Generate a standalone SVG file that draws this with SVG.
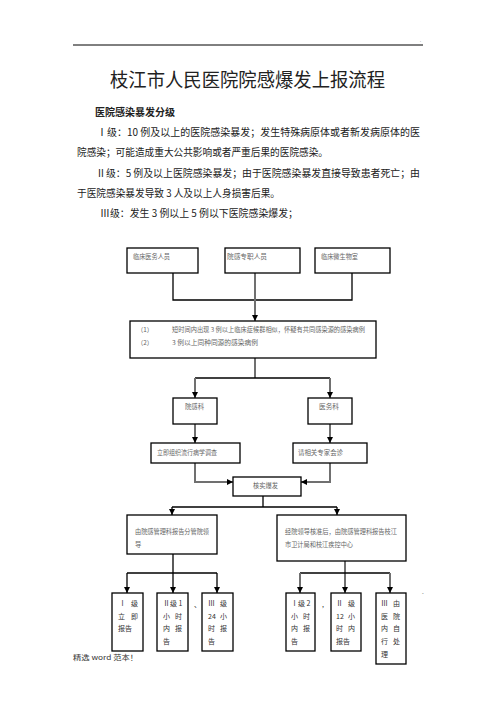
<svg xmlns="http://www.w3.org/2000/svg" width="496" height="702" viewBox="0 0 496 702">
<style>
.bg{fill:#fff}
.box{fill:#fff;stroke:#000;stroke-width:1.3}
.t{font-family:"Noto Sans CJK SC","Liberation Sans",sans-serif;fill:#222}
.bt{font-family:"Noto Sans CJK SC","Liberation Serif",serif;fill:#666;font-size:6.3px}
.st{font-family:"Noto Sans CJK SC","Liberation Serif",serif;fill:#333;font-size:7px}
.g{fill:none;stroke:#707070;stroke-width:2}
.k{fill:none;stroke:#000;stroke-width:1.3}
</style>
<defs>
<marker id="ah" markerWidth="6" markerHeight="6" refX="6" refY="3" orient="auto" markerUnits="userSpaceOnUse"><path d="M0,0 L6,3 L0,6 z" fill="#000"/></marker>
</defs>
<rect class="bg" x="0" y="0" width="496" height="702"/>
<line x1="73" y1="45" x2="423" y2="45" stroke="#000" stroke-width="1"/>
<text class="t" x="420" y="42" font-size="4">.</text>
<text class="t" x="110" y="87" font-size="19" textLength="275" lengthAdjust="spacingAndGlyphs">枝江市人民医院院感爆发上报流程</text>
<text class="t" x="95" y="116" font-size="10" font-weight="bold" textLength="80" lengthAdjust="spacingAndGlyphs">医院感染暴发分级</text>
<text class="t" x="97" y="136" font-size="10.5" textLength="323" lengthAdjust="spacingAndGlyphs">Ⅰ级：10 例及以上的医院感染暴发；发生特殊病原体或者新发病原体的医</text>
<text class="t" x="77" y="156" font-size="10.5" textLength="251" lengthAdjust="spacingAndGlyphs">院感染；可能造成重大公共影响或者严重后果的医院感染。</text>
<text class="t" x="96" y="177" font-size="10.5" textLength="324" lengthAdjust="spacingAndGlyphs">Ⅱ级：5 例及以上医院感染暴发；由于医院感染暴发直接导致患者死亡；由</text>
<text class="t" x="77" y="197" font-size="10.5" textLength="203" lengthAdjust="spacingAndGlyphs">于医院感染暴发导致 3 人及以上人身损害后果。</text>
<text class="t" x="100" y="217" font-size="10.5" textLength="198" lengthAdjust="spacingAndGlyphs">Ⅲ级：发生 3 例以上 5 例以下医院感染爆发；</text>

<g id="connectors">
<path class="k" d="M173,273 V300 H352 V273"/>
<path class="g" d="M255,273 V321" marker-end="url(#ah)"/>
<path class="g" d="M255,358 V378"/>
<path class="k" d="M195,378 H330"/>
<path class="g" d="M195,378 V398" marker-end="url(#ah)"/>
<path class="g" d="M330,378 V398" marker-end="url(#ah)"/>
<path class="g" d="M195,424 V443" marker-end="url(#ah)"/>
<path class="g" d="M330,424 V443" marker-end="url(#ah)"/>
<path class="g" d="M195,463 V482 H233" marker-end="url(#ah)"/>
<path class="g" d="M330,463 V482 H301" marker-end="url(#ah)"/>
<path class="k" d="M263,496 V507"/>
<path class="k" d="M172,507 H337"/>
<path class="k" d="M172,507 V515" marker-end="url(#ah)"/>
<path class="k" d="M337,507 V515" marker-end="url(#ah)"/>
<path class="k" d="M173,554 V593" marker-end="url(#ah)"/>
<path class="k" d="M127,573 H217"/>
<path class="k" d="M127,573 V593" marker-end="url(#ah)"/>
<path class="k" d="M217,573 V593" marker-end="url(#ah)"/>
<path class="g" d="M345,561 V593" marker-end="url(#ah)"/>
<path class="k" d="M300,573 H390"/>
<path class="g" d="M300,573 V593" marker-end="url(#ah)"/>
<path class="g" d="M390,573 V593" marker-end="url(#ah)"/>
</g>

<g id="n-linchuang">
<rect class="box" x="127" y="248" width="71" height="25"/>
<text class="bt" x="133" y="259" textLength="37" lengthAdjust="spacingAndGlyphs">临床医务人员</text>
</g>
<g id="n-yuangan-staff">
<rect class="box" x="225" y="248" width="75" height="25"/>
<text class="bt" x="227" y="259" textLength="40" lengthAdjust="spacingAndGlyphs">院感专职人员</text>
</g>
<g id="n-micro">
<rect class="box" x="315" y="248" width="75" height="25"/>
<text class="bt" x="321" y="259" textLength="37" lengthAdjust="spacingAndGlyphs">临床微生物室</text>
</g>
<g id="n-criteria">
<rect class="box" x="130" y="321" width="246" height="37"/>
<text class="bt" x="137" y="332">（1）</text>
<text class="bt" x="172" y="332" textLength="193" lengthAdjust="spacingAndGlyphs">短时间内出现 3 例以上临床症候群相似，怀疑有共同感染源的感染病例</text>
<text class="bt" x="137" y="345">（2）</text>
<text class="bt" x="172" y="345" textLength="86" lengthAdjust="spacingAndGlyphs">3 例以上同种同源的感染病例</text>
</g>
<g id="n-ygk">
<rect class="box" x="173" y="398" width="44" height="26"/>
<text class="bt" x="185" y="409" textLength="19" lengthAdjust="spacingAndGlyphs">院感科</text>
</g>
<g id="n-ywk">
<rect class="box" x="308" y="398" width="44" height="26"/>
<text class="bt" x="319" y="409" textLength="20" lengthAdjust="spacingAndGlyphs">医务科</text>
</g>
<g id="n-survey">
<rect class="box" x="151" y="443" width="89" height="20"/>
<text class="bt" x="157" y="455" textLength="60" lengthAdjust="spacingAndGlyphs">立即组织流行病学调查</text>
</g>
<g id="n-expert">
<rect class="box" x="293" y="443" width="74" height="20"/>
<text class="bt" x="298" y="455" textLength="45" lengthAdjust="spacingAndGlyphs">请相关专家会诊</text>
</g>
<g id="n-verify">
<rect class="box" x="233" y="477" width="68" height="19"/>
<text class="bt" x="253" y="488" textLength="25" lengthAdjust="spacingAndGlyphs">核实爆发</text>
</g>
<g id="n-report-leader">
<rect class="box" x="127" y="515" width="90" height="39"/>
<text class="bt" x="135" y="534" textLength="74" lengthAdjust="spacingAndGlyphs">由院感管理科报告分管院领</text>
<text class="bt" x="135" y="547">导</text>
</g>
<g id="n-report-city">
<rect class="box" x="277" y="515" width="129" height="46"/>
<text class="bt" x="285" y="534" textLength="112" lengthAdjust="spacingAndGlyphs">经院领导核准后，由院感管理科报告枝江</text>
<text class="bt" x="285" y="547" textLength="68" lengthAdjust="spacingAndGlyphs">市卫计局和枝江疾控中心</text>
</g>

<g id="n-l1">
<rect class="box" x="112" y="593" width="31" height="58"/>
<text class="st" x="119" y="606">Ⅰ</text><text class="st" x="131" y="606">级</text>
<text class="st" x="118" y="619">立</text><text class="st" x="131" y="619">即</text>
<text class="st" x="118" y="631">报告</text>
</g>
<g id="n-l2">
<rect class="box" x="157" y="593" width="31" height="58"/>
<text class="st" x="163" y="606">Ⅱ级 1</text>
<text class="st" x="163" y="619">小</text><text class="st" x="175" y="619">时</text>
<text class="st" x="163" y="631">内</text><text class="st" x="175" y="631">报</text>
<text class="st" x="163" y="644">告</text>
</g>
<text class="st" x="194" y="607" font-size="5">、</text>
<g id="n-l3">
<rect class="box" x="202" y="593" width="31" height="58"/>
<text class="st" x="208" y="606">Ⅲ</text><text class="st" x="220" y="606">级</text>
<text class="st" x="208" y="619">24</text><text class="st" x="220" y="619">小</text>
<text class="st" x="208" y="631">时</text><text class="st" x="220" y="631">报</text>
<text class="st" x="208" y="644">告</text>
</g>
<g id="n-r1">
<rect class="box" x="286" y="593" width="29" height="58"/>
<text class="st" x="291" y="606">Ⅰ级 2</text>
<text class="st" x="291" y="619">小</text><text class="st" x="303" y="619">时</text>
<text class="st" x="291" y="631">内</text><text class="st" x="303" y="631">报</text>
<text class="st" x="291" y="644">告</text>
</g>
<text class="st" x="322" y="607" font-size="5">,</text>
<g id="n-r2">
<rect class="box" x="331" y="593" width="30" height="58"/>
<text class="st" x="336" y="606">Ⅱ</text><text class="st" x="348" y="606">级</text>
<text class="st" x="336" y="619">12</text><text class="st" x="348" y="619">小</text>
<text class="st" x="336" y="631">时</text><text class="st" x="348" y="631">内</text>
<text class="st" x="336" y="644">报告</text>
</g>
<g id="n-r3">
<rect class="box" x="376" y="593" width="30" height="71"/>
<text class="st" x="381" y="606">Ⅲ</text><text class="st" x="393" y="606">由</text>
<text class="st" x="381" y="619">医</text><text class="st" x="393" y="619">院</text>
<text class="st" x="381" y="631">内</text><text class="st" x="393" y="631">自</text>
<text class="st" x="381" y="644">行</text><text class="st" x="393" y="644">处</text>
<text class="st" x="381" y="657">理</text>
</g>
<text class="t" x="422" y="595" font-size="5">-</text>
<text class="st" x="73" y="660" font-size="7.5" textLength="65" lengthAdjust="spacingAndGlyphs">精选 word 范本！</text>
</svg>
